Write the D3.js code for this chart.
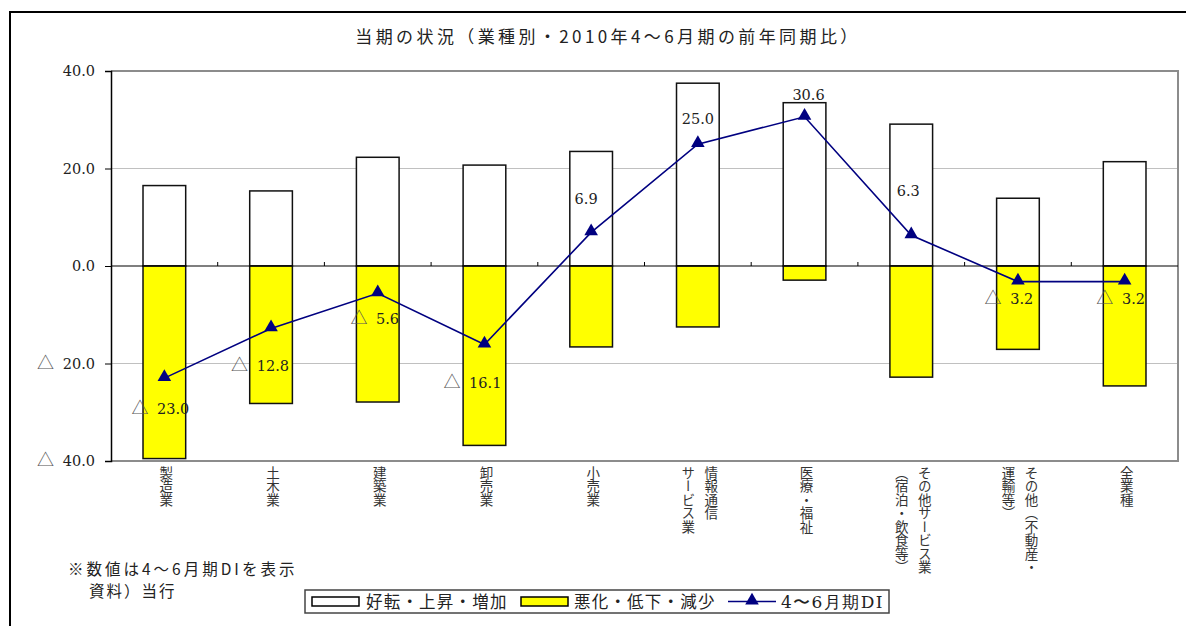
<!DOCTYPE html>
<html lang="ja">
<head>
<meta charset="utf-8">
<script src="https://cdn.jsdelivr.net/npm/d3@7"></script>
<style>
  html, body { margin: 0; padding: 0; background: #fff; }
  svg { display: block; }
</style>
</head>
<body>
<svg id="chart" width="1186" height="626"></svg>
<script>
// 業種別 DI（2010年4〜6月期・前年同期比）
const categories = [
  "製造業", "土木業", "建築業", "卸売業", "小売業",
  "情報通信\nサービス業", "医療・福祉", "その他サービス業\n（宿泊・飲食等）",
  "その他（不動産・\n運輸等）", "全業種"
];
const improved = [16.5, 15.4, 22.3, 20.7, 23.5, 37.5, 33.5, 29.1, 13.9, 21.4];      // 好転・上昇・増加
const worsened = [-39.5, -28.2, -27.9, -36.8, -16.6, -12.5, -2.9, -22.8, -17.1, -24.6]; // 悪化・低下・減少
const di = [-23.0, -12.8, -5.6, -16.1, 6.9, 25.0, 30.6, 6.3, -3.2, -3.2];           // 4〜6月期DI
const yTicks = [-40, -20, 0, 20, 40];

// 数値ラベルの配置（点からのずれ）
const labelOffset = [[-4, 36], [-11, 43], [-3, 31], [-12, 44], [-5, -28],
                     [0, -20], [4, -17], [-3, -39], [-9, 22], [-4, 22]];

const JP = "'Noto Sans CJK JP', sans-serif";
const NUM = "'DejaVu Serif', 'Liberation Serif', serif";

// 負の値は「△」付きで表示
function writeValue(sel, v) {
  sel.text(null);
  if (v < 0) {
    sel.append("tspan").attr("font-family", JP).attr("font-size", 17)
      .attr("fill", "#555").text("△");
    sel.append("tspan").attr("dx", 4).text("\u00a0" + Math.abs(v).toFixed(1));
  } else {
    sel.append("tspan").text(v.toFixed(1));
  }
}

const svg = d3.select("#chart");

// 外枠
svg.append("rect")
  .attr("x", 10).attr("y", 12).attr("width", 1200).attr("height", 640)
  .attr("fill", "none").attr("stroke", "#000").attr("stroke-width", 2);

// タイトル
svg.append("text")
  .attr("x", 608).attr("y", 43).attr("text-anchor", "middle")
  .attr("font-family", JP).attr("font-size", 17).attr("fill", "#222")
  .attr("letter-spacing", 3.4)
  .text("当期の状況（業種別・2010年4〜6月期の前年同期比）");

const plotL = 111, plotR = 1178, plotT = 71, plotB = 461;

const x = d3.scaleBand().domain(categories).range([plotL, plotR])
  .paddingInner(0.6).paddingOuter(0.3);
const y = d3.scaleLinear().domain([-40, 40]).range([plotB, plotT]);

// 枠とグリッド線
svg.append("g").selectAll("line").data([20, -20]).join("line")
  .attr("x1", plotL).attr("x2", plotR)
  .attr("y1", d => y(d)).attr("y2", d => y(d))
  .attr("stroke", "#c0c0c0").attr("stroke-width", 1);
svg.append("path")
  .attr("d", `M${plotL},${y(40)}H${plotR}V${y(-40)}H${plotL}`)
  .attr("fill", "none").attr("stroke", "#8c8c8c").attr("stroke-width", 2);

// 棒グラフ
svg.append("g").selectAll("rect").data(categories).join("rect")
  .attr("x", d => x(d)).attr("width", x.bandwidth())
  .attr("y", (d, i) => y(improved[i]))
  .attr("height", (d, i) => y(0) - y(improved[i]))
  .attr("fill", "#fff").attr("stroke", "#111").attr("stroke-width", 1.5);
svg.append("g").selectAll("rect").data(categories).join("rect")
  .attr("x", d => x(d)).attr("width", x.bandwidth())
  .attr("y", y(0))
  .attr("height", (d, i) => y(worsened[i]) - y(0))
  .attr("fill", "#ffff00").attr("stroke", "#111").attr("stroke-width", 1.5);

// ゼロ線と区切り目盛
const zero = svg.append("g").attr("transform", `translate(0,${y(0)})`);
zero.append("line").attr("x1", plotL).attr("x2", plotR).attr("stroke", "#000").attr("stroke-width", 1.2);
zero.selectAll("line.tk").data(d3.range(1, categories.length)).join("line")
  .attr("class", "tk")
  .attr("x1", i => plotL + i * x.step()).attr("x2", i => plotL + i * x.step())
  .attr("y1", 0).attr("y2", -4).attr("stroke", "#000");

// Y軸
const yAxis = svg.append("g").attr("transform", `translate(${plotL},0)`)
  .call(d3.axisLeft(y).tickValues(yTicks).tickSize(6).tickPadding(10));
yAxis.select(".domain").attr("stroke", "#000").attr("stroke-width", 1.5);
yAxis.selectAll(".tick line").attr("stroke", "#000");
yAxis.selectAll(".tick text")
  .attr("font-family", NUM).attr("font-size", 14.5).attr("fill", "#222")
  .each(function (d) { writeValue(d3.select(this), d); });

// DI 折れ線
const cx = d => x(d) + x.bandwidth() / 2;
svg.append("path")
  .datum(categories)
  .attr("d", d3.line().x(d => cx(d)).y((d, i) => y(di[i])))
  .attr("fill", "none").attr("stroke", "#000080").attr("stroke-width", 1.6);
const tri = d3.symbol().type(d3.symbolTriangle).size(80);
svg.append("g").selectAll("path").data(categories).join("path")
  .attr("transform", (d, i) => `translate(${cx(d)},${y(di[i]) - 1})`)
  .attr("d", tri).attr("fill", "#000080");

// 数値ラベル
svg.append("g").selectAll("text").data(categories).join("text")
  .attr("x", (d, i) => cx(d) + labelOffset[i][0])
  .attr("y", (d, i) => y(di[i]) + labelOffset[i][1])
  .attr("text-anchor", "middle")
  .attr("font-family", NUM).attr("font-size", 14.5).attr("fill", "#222")
  .each(function (d, i) { writeValue(d3.select(this), di[i]); });

// X軸ラベル（縦書き）
const xl = svg.append("g");
categories.forEach(c => {
  const lines = c.split("\n");
  const gap = 23;
  lines.forEach((ln, j) => {
    const colX = cx(c) + ((lines.length - 1) / 2 - j) * gap + 2;
    xl.append("text")
      .attr("x", colX).attr("y", 466)
      .style("writing-mode", "vertical-rl")
      .attr("font-family", JP).attr("font-size", 13.5).attr("fill", "#333")
      .text(ln);
  });
});

// 注記
svg.append("text").attr("x", 68).attr("y", 575)
  .attr("font-family", JP).attr("font-size", 15.5).attr("fill", "#222")
  .attr("letter-spacing", 3)
  .text("※数値は4〜6月期DIを表示");
svg.append("text").attr("x", 89).attr("y", 597)
  .attr("font-family", JP).attr("font-size", 15.5).attr("fill", "#222")
  .attr("letter-spacing", 2)
  .text("資料）当行");

// 凡例
const lg = svg.append("g");
lg.append("rect").attr("x", 305).attr("y", 590).attr("width", 584).attr("height", 23)
  .attr("fill", "#fff").attr("stroke", "#444").attr("stroke-width", 1.5);
lg.append("rect").attr("x", 312).attr("y", 597).attr("width", 47).attr("height", 9)
  .attr("fill", "#fff").attr("stroke", "#000").attr("stroke-width", 1.5);
lg.append("text").attr("x", 366).attr("y", 608)
  .attr("font-family", JP).attr("font-size", 16.5).attr("fill", "#222")
  .attr("letter-spacing", 1.2)
  .text("好転・上昇・増加");
lg.append("rect").attr("x", 521).attr("y", 597).attr("width", 47).attr("height", 9)
  .attr("fill", "#ffff00").attr("stroke", "#000").attr("stroke-width", 1.5);
lg.append("text").attr("x", 574).attr("y", 608)
  .attr("font-family", JP).attr("font-size", 16.5).attr("fill", "#222")
  .attr("letter-spacing", 1.2)
  .text("悪化・低下・減少");
lg.append("line").attr("x1", 728).attr("x2", 776).attr("y1", 601.5).attr("y2", 601.5)
  .attr("stroke", "#000080").attr("stroke-width", 1.6);
lg.append("path").attr("transform", "translate(752,600.5)").attr("d", tri).attr("fill", "#000080");
lg.append("text").attr("x", 781).attr("y", 608)
  .attr("font-family", NUM).attr("font-size", 17).attr("fill", "#222")
  .attr("letter-spacing", 1.4)
  .text("4〜6月期DI");
</script>
</body>
</html>
